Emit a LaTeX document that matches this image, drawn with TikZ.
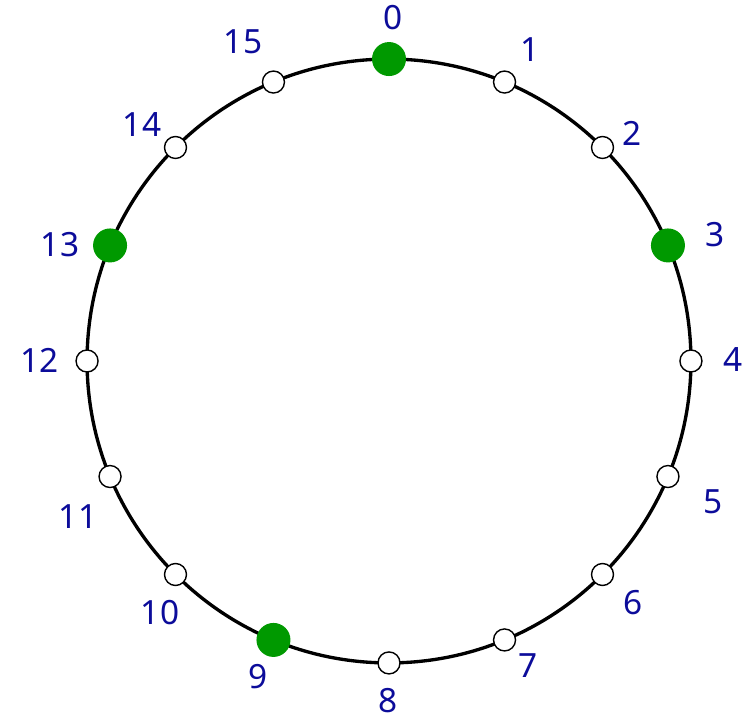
\documentclass[tikz,border=0pt]{standalone}
\usepackage{fontspec}
\setmainfont{Noto Sans}
\usetikzlibrary{calc}
\definecolor{ringgreen}{HTML}{009900}
\definecolor{numblue}{HTML}{0C0C9A}

\begin{document}
\begin{tikzpicture}[
  x=0.02cm, y=0.02cm,
  font=\fontsize{19}{22}\selectfont,
  ring/.style={draw=black, line width=1.9pt},
  opendot/.style={circle, draw=black, line width=0.8pt, fill=white,
                  minimum size=0.44cm, inner sep=0pt},
  hitdot/.style={circle, fill=ringgreen, minimum size=0.68cm, inner sep=0pt},
  num/.style={text=numblue, inner sep=0pt},
]
\useasboundingbox (0,0) rectangle (743,722);

% ─── ring ──────────────────────────────────────────────────────────────────
\coordinate (c) at (389,361);
\draw[ring] (c) circle[radius=6.04cm];

% ─── positions on the ring ─────────────────────────────────────────────────
\foreach \i in {0,...,15}{
  \node[opendot] (p\i) at ($(c)+({90-22.5*\i}:6.04cm)$) {};
}
\foreach \i in {0,3,9,13}{
  \node[hitdot] at (p\i) {};
}

% ─── numbers ───────────────────────────────────────────────────────────────
\foreach \i/\x/\y in {0/393/704, 1/530/672, 2/632/589, 3/715/487,
                      4/733/362, 5/713/220, 6/633/119, 7/528/56,
                      8/388/21, 9/258/45, 10/160/109, 11/78/205,
                      12/40/362, 13/60/477, 14/142/597, 15/243/680}{
  \node[num] (l\i) at (\x,\y) {\i};
}

\end{tikzpicture}
\end{document}
